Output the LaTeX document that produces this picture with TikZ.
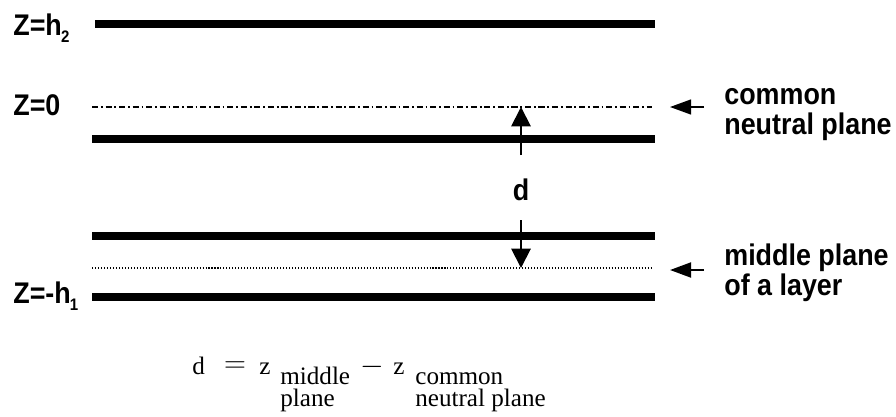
\documentclass[tikz,border=0pt]{standalone}
\usepackage{fontspec}
\setmainfont{Liberation Serif}
\newfontfamily\labelfont[FakeStretch=0.9]{Liberation Sans}
\usetikzlibrary{arrows.meta}

\begin{document}
\begin{tikzpicture}[
        x=0.02cm, y=-0.02cm,
        layer/.style={line width=4.3pt},
        neutral/.style={line width=0.8pt, dash pattern=on 3.5pt off 1.6pt on 1pt off 1.6pt},
        midplane/.style={line width=0.7pt, dash pattern=on 0.6pt off 1.1pt},
        darrow/.style={-{Triangle[length=11pt, width=11pt]}, line width=1.1pt},
        sidearrow/.style={-{Triangle[length=12pt, width=8.5pt]}, line width=0.9pt},
        zlabel/.style={font=\labelfont\bfseries\fontsize{17}{17}\selectfont, inner sep=0pt, anchor=base west},
        planelabel/.style={font=\labelfont\bfseries\fontsize{17}{17}\selectfont, inner sep=0pt, anchor=base west, align=left},
        formula/.style={font=\fontsize{14.3}{12}\selectfont, inner sep=0pt, anchor=base west, align=left}
    ]
    \useasboundingbox (0,0) rectangle (896,416);

    % ==========================================
    % LAYERS AND PLANES
    % ==========================================
    \draw[layer] (95,24) -- (655,24);     % Z=h2
    \draw[neutral] (92,107) -- (652,107); % common neutral plane
    \draw[layer] (92,139) -- (655,139);
    \draw[layer] (92,236) -- (655,236);
    \draw[midplane] (92,268) -- (651,268); % middle plane of a layer
    \draw[layer] (92,297) -- (655,297);   % Z=-h1

    % ==========================================
    % LEFT LABELS
    % ==========================================
    \node[zlabel] (zTop) at (13,35) {Z=h\kern-0.5pt\raisebox{-4pt}{\fontsize{9.5}{9.5}\selectfont 2}};
    \node[zlabel] (zZero) at (13,115) {Z=0};
    \node[zlabel] (zBottom) at (13,303) {Z=-h\kern-0.5pt\raisebox{-4pt}{\fontsize{9.5}{9.5}\selectfont 1}};

    % ==========================================
    % DISTANCE d
    % ==========================================
    \node[font=\labelfont\bfseries\fontsize{17}{17}\selectfont, inner sep=1pt] (dLabel) at (521,190) {d};
    \coordinate (dUpTail) at (521,155);
    \coordinate (dUpTip) at (521,107);
    \coordinate (dDownTail) at (521,220);
    \coordinate (dDownTip) at (521,268);
    \draw[darrow] (dUpTail) -- (dUpTip);
    \draw[darrow] (dDownTail) -- (dDownTip);

    % ==========================================
    % RIGHT LABELS (anchored at the baseline of the last line)
    % ==========================================
    \node[planelabel] (cnpText) at (724,134) {common\\neutral plane};
    \node[planelabel] (mpText) at (724,295) {middle plane\\of a layer};
    \coordinate (cnpTail) at (704,107);
    \coordinate (cnpTip) at (670,107);
    \coordinate (mpTail) at (704,270);
    \coordinate (mpTip) at (670,270);
    \draw[sidearrow] (cnpTail) -- (cnpTip);
    \draw[sidearrow, line width=1.3pt] (mpTail) -- (mpTip);

    % ==========================================
    % FORMULA
    % ==========================================
    \node[formula] (fD) at (192,374) {d};
    \node[formula, anchor=center, font=\fontsize{16}{16}\selectfont] (fEq) at (235,367) {$=$};
    \node[formula] (fZ1) at (259,374) {z};
    \node[formula] (fSub1) at (280,406) {middle\\plane};
    \node[formula, anchor=center, font=\fontsize{16}{16}\selectfont] (fMinus) at (372,367) {$-$};
    \node[formula] (fZ2) at (393,374) {z};
    \node[formula] (fSub2) at (415,406) {common\\neutral\ plane};

\end{tikzpicture}
\end{document}
